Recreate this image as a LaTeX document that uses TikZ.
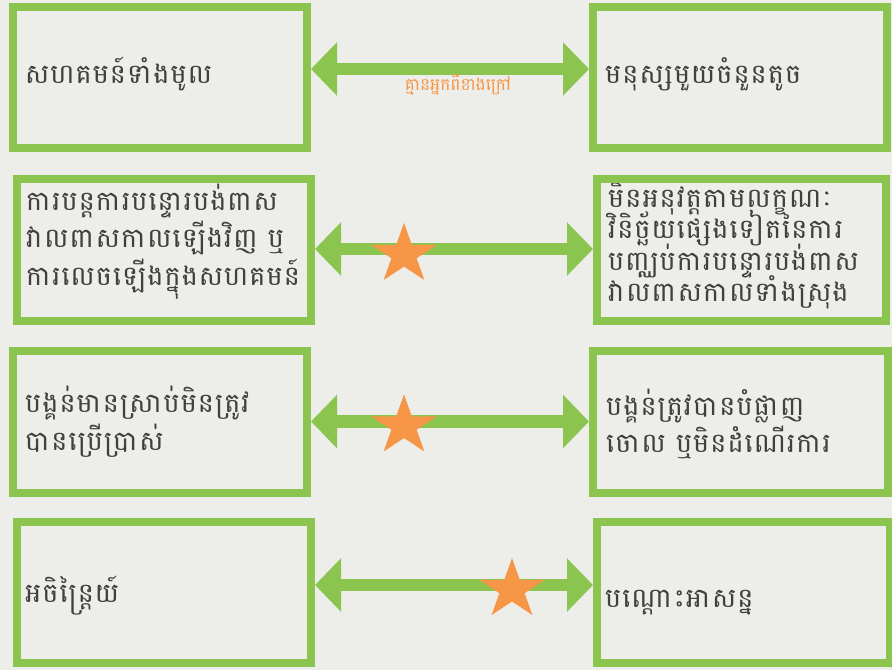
\documentclass[tikz,border=0pt]{standalone}
\usepackage{fontspec}
\newfontfamily\khmer[Script=Khmer, LetterSpace=4]{Battambang}
\newfontfamily\khmerlbl[Script=Khmer]{Battambang}
\usetikzlibrary{arrows.meta,shapes.geometric}
\definecolor{bg}{HTML}{EDEDE9}
\definecolor{grn}{HTML}{8BC550}
\definecolor{org}{HTML}{F79646}
\definecolor{txt}{HTML}{404040}
\newcommand{\klines}[2]{\vtop{\baselineskip=#1\lineskiplimit=-200pt\lineskip=0pt #2}}
\begin{document}
\begin{tikzpicture}[x=1pt,y=-1pt,
  box/.style={draw=grn, line width=8pt, minimum width=294pt, minimum height=141pt, inner sep=0pt},
  ktext/.style={font=\khmer\fontsize{27}{38}\selectfont, text=txt, anchor=base west, inner sep=0pt},
  dbl/.style={draw=grn, line width=12.5pt, {Triangle[length=26pt,width=52pt]}-{Triangle[length=26pt,width=52pt]}},
  staro/.style={star, star points=5, star point ratio=2.618, fill=org, draw=none, minimum size=63pt, inner sep=0pt},
  lbl/.style={font=\khmerlbl\fontsize{17}{19}\selectfont, text=org, inner sep=0pt}]
\useasboundingbox (0,0) rectangle (892,670);
\fill[bg] (0,0) rectangle (892,670);
% boxes
\node[box] (L1) at (160,77.5) {};
\node[box] (R1) at (740,77.5) {};
\node[box, minimum height=142pt] (L2) at (164,250) {};
\node[box, minimum width=289pt, minimum height=142pt] (R2) at (741.5,250) {};
\node[box, minimum height=142pt] (L3) at (160,422) {};
\node[box, minimum width=295pt, minimum height=142pt] (R3) at (740.5,422) {};
\node[box] (L4) at (164,592.5) {};
\node[box, minimum width=293pt] (R4) at (743.5,592.5) {};
% texts
\node[ktext] (tL1) at (25,83) {សហគមន៍ទាំងមូល};
\node[ktext] (tR1) at (605,83) {មនុស្សមួយចំនួនតូច};
\node[ktext] (tL2) at (26,210) {\klines{37.5pt}{\hbox{ការបន្តការបន្ទោរបង់ពាស}\hbox{វាលពាសកាលឡើងវិញ ឬ}\hbox{ការលេចឡើងក្នុងសហគមន៍}}};
\begin{scope}
\clip (601,183) rectangle (882,317);
\node[ktext] (tR2) at (608,207) {\klines{31.5pt}{\hbox{មិនអនុវត្តតាមលក្ខណៈ}\hbox{វិនិច្ឆ័យផ្សេងទៀតនៃការ}\hbox{បញ្ឈប់ការបន្ទោរបង់ពាស}\hbox{វាលពាសកាលទាំងស្រុង}}};
\end{scope}
\node[ktext] (tL3) at (25,412) {\klines{38pt}{\hbox{បង្គន់មានស្រាប់មិនត្រូវ}\hbox{បានប្រើប្រាស់}}};
\node[ktext] (tR3) at (606,415) {\klines{37pt}{\hbox{បង្គន់ត្រូវបានបំផ្លាញ}\hbox{ចោល ឬមិនដំណើរការ}}};
\node[ktext] (tL4) at (25,602) {អចិន្ត្រៃយ៍};
\node[ktext] (tR4) at (605,607) {បណ្ដោះអាសន្ន};
% arrows
\draw[dbl] (L1.east |- 0,69) -- (R1.west |- 0,69);
\draw[dbl] (L2.east |- 0,249) -- (R2.west |- 0,249);
\draw[dbl] (L3.east |- 0,421.5) -- (R3.west |- 0,421.5);
\draw[dbl] (L4.east |- 0,585) -- (R4.west |- 0,585);
\node[lbl] (lab1) at (458,85) {គ្មានអ្នកពីខាងក្រៅ};
% stars
\begin{scope}[shift={(404,254.5)}, xscale=1.1]
\node[staro, transform shape] (s2) at (0,0) {};
\end{scope}
\begin{scope}[shift={(404,426)}, xscale=1.1]
\node[staro, transform shape] (s3) at (0,0) {};
\end{scope}
\begin{scope}[shift={(512,589.5)}, xscale=1.1]
\node[staro, transform shape] (s4) at (0,0) {};
\end{scope}
\end{tikzpicture}
\end{document}
